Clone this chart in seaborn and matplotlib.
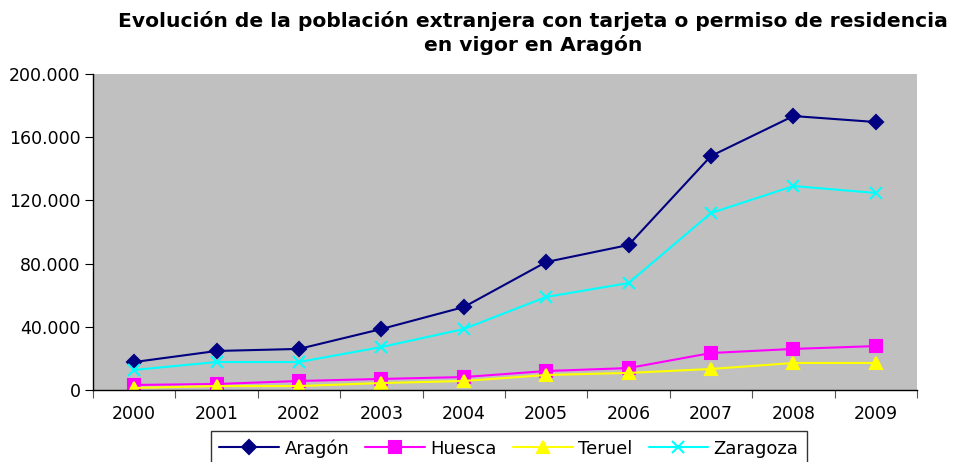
import matplotlib
matplotlib.use('Agg')
import matplotlib.pyplot as plt
import pandas as pd
import numpy as np
import seaborn as sns

years = ['2000', '2001', '2002', '2003', '2004', '2005', '2006', '2007', '2008', '2009']
aragon = [17700, 24700, 26000, 38600, 52500, 81000, 91800, 148100, 173400, 169600]
huesca = [3200, 3800, 5700, 7000, 8200, 12000, 13900, 23400, 26000, 27800]
teruel = [1300, 2500, 2500, 4400, 5700, 9500, 10800, 13300, 17100, 17100]
zaragoza = [12700, 17700, 17700, 27200, 38600, 58900, 67700, 112000, 129100, 124700]
series = ['Aragón', 'Huesca', 'Teruel', 'Zaragoza']
yticks = [0, 40000, 80000, 120000, 160000, 200000]
ylabels = ['0', '40.000', '80.000', '120.000', '160.000', '200.000']

rows = []
for name, vals in zip(series, [aragon, huesca, teruel, zaragoza]):
    for i, v in enumerate(vals):
        rows.append([name, i, v])
df = pd.DataFrame(rows, columns=['serie', 'x', 'valor'])

sns.set_style('white')
plt.rcParams['font.family'] = ['DejaVu Sans']
plt.rcParams['text.color'] = 'black'
plt.rcParams['xtick.color'] = 'black'
plt.rcParams['ytick.color'] = 'black'

fig = plt.figure(figsize=(9.62, 4.62), dpi=100)
ax = fig.add_axes([93/962, 1-390/462, (917-93)/962, (390-74)/462])
ax.set_facecolor('#C0C0C0')

colors = {'Aragón': '#000080', 'Huesca': '#FF00FF', 'Teruel': '#FFFF00', 'Zaragoza': '#00FFFF'}
markers = {'Aragón': 'D', 'Huesca': 's', 'Teruel': '^', 'Zaragoza': 'x'}
sizes = {'Aragón': 7, 'Huesca': 8, 'Teruel': 9, 'Zaragoza': 9}
for name in series:
    sub = df[df.serie == name]
    sns.lineplot(data=sub, x='x', y='valor', ax=ax, color=colors[name],
                 marker=markers[name], markersize=sizes[name],
                 markeredgecolor=colors[name], markeredgewidth=1.5,
                 linewidth=1.5, label=name, legend=False)

ax.set_xlim(-0.5, 9.5)
ax.set_ylim(0, 200000)
ax.set_yticks(yticks)
ax.set_yticklabels(ylabels, fontsize=12.5)
ax.set_xticks(np.arange(-0.5, 10, 1))
ax.set_xticklabels([])
ax.set_xticks(np.arange(10), minor=True)
ax.set_xticklabels(years, minor=True, fontsize=12.5)
ax.tick_params(axis='x', which='minor', length=0, pad=11)
ax.tick_params(axis='x', which='major', length=6, direction='out', color='#555555', bottom=True)
ax.tick_params(axis='y', length=6, direction='out', left=True, pad=3)
ax.set_xlabel('')
ax.set_ylabel('')
for s in ['top', 'right']:
    ax.spines[s].set_visible(False)
for s in ['left', 'bottom']:
    ax.spines[s].set_color('black')
    ax.spines[s].set_linewidth(1.0)

fig.text(533/962, 1-11/462, 'Evolución de la población extranjera con tarjeta o permiso de residencia\nen vigor en Aragón',
         ha='center', va='top', fontsize=14.6, fontweight='bold', linespacing=1.25)

h, l = ax.get_legend_handles_labels()
leg = fig.legend(h, l, loc='upper center', bbox_to_anchor=(509/962, 1-431/462), ncol=4,
                 frameon=True, fancybox=False, edgecolor='black', fontsize=13,
                 handlelength=3.3, handletextpad=0.3, columnspacing=0.9,
                 borderpad=0.45, borderaxespad=0)
leg.get_frame().set_linewidth(1.0)

fig.savefig('out.png', dpi=100)
